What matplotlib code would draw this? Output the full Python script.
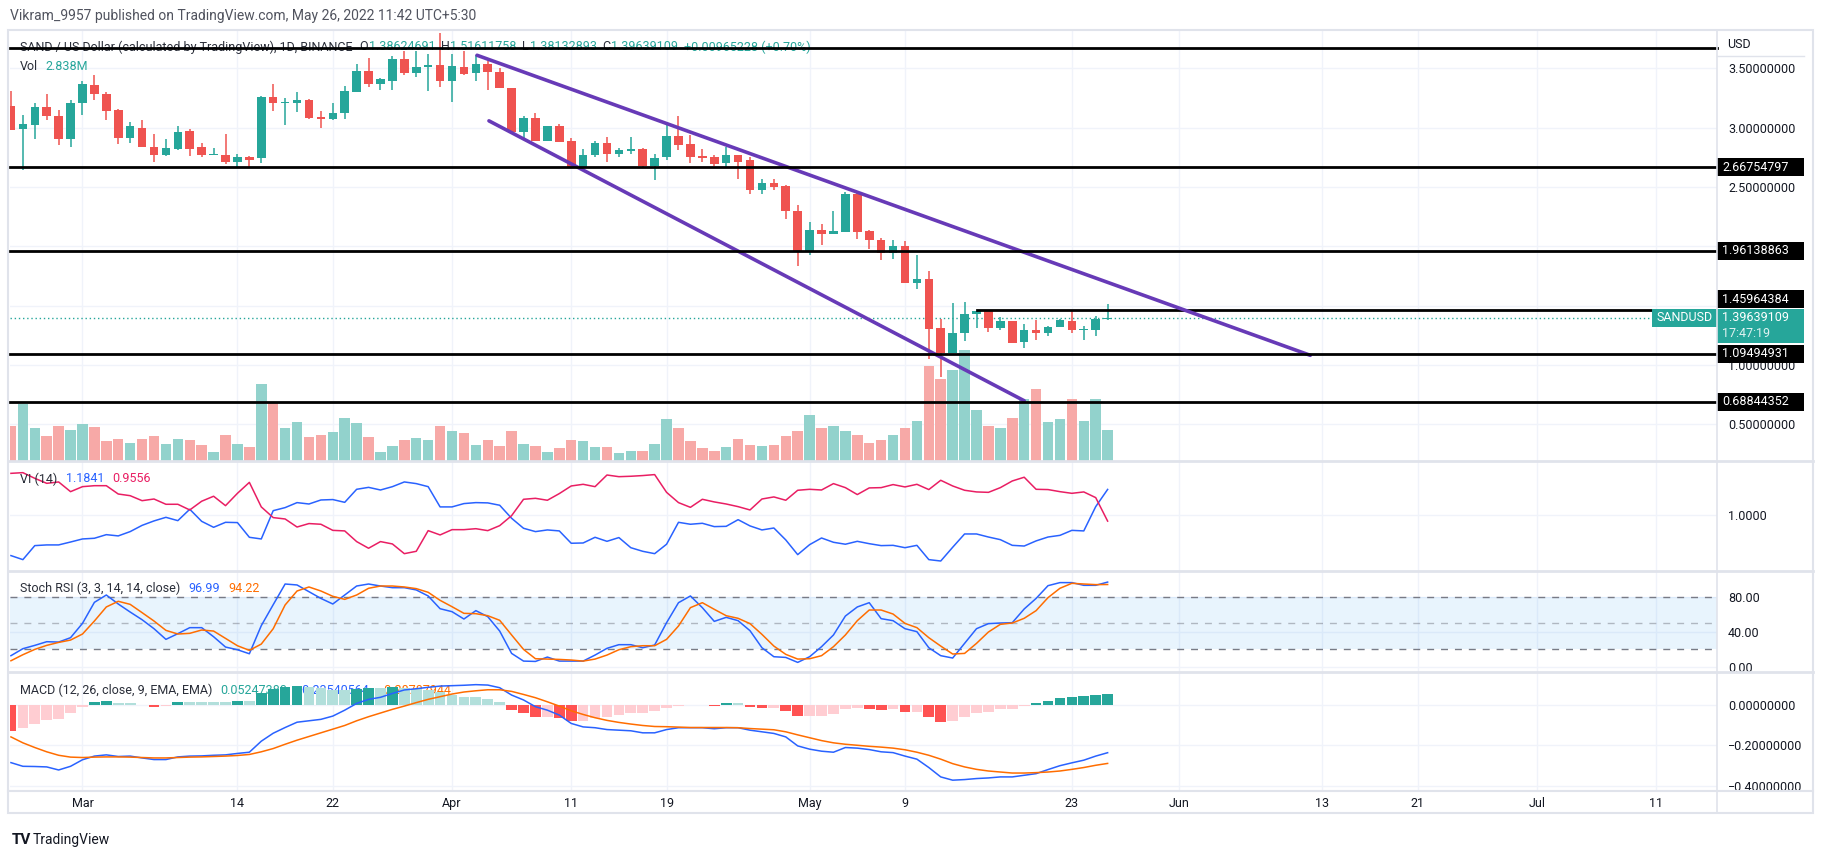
import numpy as np
import matplotlib
matplotlib.use('Agg')
import matplotlib.pyplot as plt
from matplotlib.patches import Rectangle
from matplotlib.lines import Line2D
from matplotlib.transforms import blended_transform_factory

plt.rcParams['font.family'] = ['Roboto', 'DejaVu Sans']

# ---- daily candles, Feb 23 .. May 26 2022 (index 0..92) ----
opens = [3.18, 2.99, 3.02, 3.17, 3.10, 2.90, 3.21, 3.36, 3.28, 3.15,
         2.91, 3.00, 2.84, 2.77, 2.82, 2.97, 2.84, 2.77, 2.77, 2.71,
         2.75, 2.74, 3.26, 3.21, 3.21, 3.23, 3.09, 3.07, 3.12, 3.30,
         3.48, 3.37, 3.39, 3.58, 3.46, 3.51, 3.53, 3.39, 3.51, 3.46,
         3.54, 3.47, 3.33, 2.96, 3.08, 2.89, 3.01, 2.89, 2.67, 2.77,
         2.87, 2.78, 2.80, 2.82, 2.68, 2.75, 2.93, 2.86, 2.76, 2.75,
         2.70, 2.77, 2.73, 2.47, 2.53, 2.51, 2.30, 1.96, 2.14, 2.10,
         2.12, 2.44, 2.13, 2.05, 1.94, 2.00, 1.69, 1.72, 1.31, 1.10,
         1.27, 1.43, 1.45, 1.31, 1.37, 1.19, 1.29, 1.27, 1.32, 1.37,
         1.29, 1.29, 1.38624691]
highs = [3.31, 3.11, 3.21, 3.28, 3.15, 3.23, 3.39, 3.44, 3.30, 3.16,
         3.05, 3.06, 2.95, 2.90, 3.01, 2.99, 2.87, 2.83, 2.95, 2.78,
         2.76, 3.27, 3.37, 3.25, 3.30, 3.24, 3.14, 3.21, 3.35, 3.54,
         3.59, 3.42, 3.60, 3.65, 3.65, 3.62, 3.80, 3.62, 3.65, 3.61,
         3.56, 3.50, 3.33, 3.10, 3.12, 3.01, 3.03, 2.91, 2.82, 2.89,
         2.92, 2.83, 2.92, 2.83, 2.78, 3.03, 3.10, 2.94, 2.82, 2.77,
         2.84, 2.77, 2.75, 2.57, 2.57, 2.52, 2.35, 2.20, 2.19, 2.30,
         2.46, 2.46, 2.14, 2.07, 2.05, 2.04, 1.93, 1.79, 1.39, 1.52,
         1.53, 1.45, 1.45, 1.40, 1.37, 1.34, 1.38, 1.33, 1.39, 1.45,
         1.33, 1.41, 1.51611758]
lows = [2.98, 2.64, 2.90, 3.06, 2.85, 2.84, 3.11, 3.23, 3.06, 2.86,
        2.87, 2.84, 2.71, 2.76, 2.81, 2.76, 2.75, 2.77, 2.69, 2.67,
        2.67, 2.70, 3.14, 3.02, 3.13, 3.07, 3.00, 3.06, 3.07, 3.30,
        3.34, 3.32, 3.32, 3.44, 3.43, 3.31, 3.34, 3.22, 3.44, 3.39,
        3.32, 3.33, 2.95, 2.90, 2.89, 2.89, 2.88, 2.66, 2.67, 2.75,
        2.71, 2.75, 2.78, 2.66, 2.56, 2.73, 2.81, 2.70, 2.71, 2.68,
        2.66, 2.57, 2.44, 2.44, 2.47, 2.23, 1.83, 1.93, 2.01, 2.10,
        2.12, 2.06, 1.98, 1.88, 1.89, 1.69, 1.64, 1.05, 0.90, 1.10,
        1.20, 1.31, 1.28, 1.29, 1.18, 1.14, 1.21, 1.24, 1.32, 1.27,
        1.21, 1.24, 1.38132893]
closes = [2.98, 3.03, 3.17, 3.10, 2.90, 3.21, 3.37, 3.28, 3.14, 2.91,
          3.01, 2.84, 2.77, 2.83, 2.96, 2.82, 2.77, 2.78, 2.71, 2.75,
          2.73, 3.26, 3.21, 3.214, 3.23, 3.08, 3.07, 3.12, 3.31, 3.48,
          3.37, 3.41, 3.58, 3.46, 3.51, 3.53, 3.39, 3.52, 3.45, 3.54,
          3.47, 3.33, 2.96, 3.08, 2.89, 3.01, 2.88, 2.67, 2.77, 2.87,
          2.78, 2.81, 2.82, 2.68, 2.74, 2.93, 2.85, 2.75, 2.745, 2.69,
          2.77, 2.71, 2.47, 2.53, 2.50, 2.30, 1.96, 2.14, 2.10, 2.13,
          2.44, 2.12, 2.05, 1.94, 2.00, 1.69, 1.72, 1.30, 1.10, 1.27,
          1.43, 1.45, 1.31, 1.37, 1.18, 1.29, 1.27, 1.32, 1.38, 1.29,
          1.30, 1.39, 1.39639109]
volumes = [3.21, 5.24, 3.02, 2.28, 3.21, 2.84, 3.39, 3.12, 1.82, 2.01,
           1.64, 2.01, 2.28, 1.54, 2.01, 1.91, 1.45, 0.80, 2.38, 1.54,
           1.26, 7.10, 5.34, 3.02, 3.58, 2.19, 2.38, 2.65, 3.95, 3.49,
           2.19, 0.80, 1.36, 1.91, 2.10, 1.91, 3.21, 2.75, 2.56, 1.45,
           1.91, 1.36, 2.75, 1.54, 1.36, 0.80, 1.17, 1.91, 1.82, 1.26,
           1.26, 0.71, 0.89, 0.89, 1.54, 3.86, 3.02, 1.82, 1.17, 0.89,
           1.26, 2.01, 1.45, 1.36, 1.45, 2.28, 2.75, 4.23, 3.02, 3.21,
           2.75, 2.38, 1.64, 1.91, 2.38, 3.02, 3.67, 8.76, 7.56, 8.39,
           10.24, 4.69, 3.21, 3.02, 3.95, 5.77, 6.63, 3.58, 3.86, 5.71,
           3.67, 5.71, 2.838]

# ---- indicators ----
vi_plus = [0.707, 0.678, 0.779, 0.784, 0.784, 0.805, 0.827, 0.832, 0.858, 0.849,
           0.880, 0.925, 0.957, 0.983, 0.959, 1.041, 0.954, 0.911, 0.947, 0.945,
           0.839, 0.827, 1.031, 1.053, 1.089, 1.079, 1.108, 1.111, 1.091, 1.185,
           1.199, 1.180, 1.204, 1.238, 1.226, 1.204, 1.058, 1.058, 1.082, 1.089,
           1.087, 1.070, 0.976, 0.904, 0.880, 0.892, 0.885, 0.796, 0.798, 0.839,
           0.810, 0.837, 0.764, 0.738, 0.721, 0.789, 0.947, 0.933, 0.940, 0.916,
           0.918, 0.966, 0.921, 0.892, 0.906, 0.820, 0.714, 0.786, 0.834, 0.803,
           0.789, 0.810, 0.793, 0.779, 0.781, 0.764, 0.781, 0.678, 0.668, 0.767,
           0.863, 0.863, 0.841, 0.822, 0.781, 0.776, 0.813, 0.841, 0.853, 0.889,
           0.885, 1.060, 1.1841]
vi_minus = [1.300, 1.305, 1.264, 1.228, 1.238, 1.168, 1.204, 1.211, 1.211, 1.151,
            1.139, 1.103, 1.115, 1.077, 1.077, 1.036, 1.099, 1.135, 1.067, 1.156,
            1.235, 1.058, 0.981, 0.971, 0.913, 0.938, 0.933, 0.889, 0.885, 0.808,
            0.760, 0.808, 0.791, 0.721, 0.738, 0.887, 0.856, 0.894, 0.894, 0.901,
            0.887, 0.923, 0.995, 1.113, 1.120, 1.106, 1.154, 1.209, 1.221, 1.204,
            1.288, 1.276, 1.279, 1.284, 1.291, 1.163, 1.089, 1.055, 1.113, 1.094,
            1.079, 1.060, 1.036, 1.115, 1.130, 1.106, 1.178, 1.185, 1.180, 1.226,
            1.197, 1.147, 1.195, 1.197, 1.219, 1.202, 1.221, 1.183, 1.250, 1.209,
            1.178, 1.166, 1.163, 1.197, 1.245, 1.272, 1.185, 1.183, 1.168, 1.156,
            1.166, 1.125, 0.9556]
stoch_k = [12.7, 20.7, 24.5, 28.7, 28.3, 33.3, 49.7, 73.8, 82.2, 71.9,
           62.7, 53.9, 43.6, 31.4, 37.9, 44.8, 44.8, 34.4, 22.6, 19.5,
           14.9, 47.1, 71.1, 94.8, 93.7, 86.0, 78.3, 71.9, 82.2, 92.5,
           94.8, 92.5, 90.6, 90.6, 88.0, 81.1, 66.5, 63.1, 54.7, 64.3,
           57.4, 40.9, 15.3, 6.5, 6.1, 11.1, 6.5, 6.5, 6.5, 13.4,
           21.1, 25.3, 25.3, 21.8, 24.9, 50.5, 73.4, 81.1, 67.7, 52.0,
           56.6, 52.8, 41.3, 21.8, 11.5, 10.7, 5.0, 11.5, 23.0, 36.4,
           58.1, 68.5, 73.4, 55.1, 52.8, 43.6, 40.2, 21.8, 12.7, 10.0,
           26.8, 43.6, 49.4, 50.1, 50.5, 66.2, 78.3, 92.9, 96.4, 96.4,
           93.3, 93.3, 96.99]
stoch_d = [6.9, 13.8, 19.9, 24.5, 27.9, 30.6, 37.5, 52.4, 68.5, 75.0,
           71.5, 62.0, 52.4, 41.7, 37.5, 38.3, 42.1, 40.9, 32.5, 24.1,
           18.8, 26.0, 43.6, 70.8, 86.8, 91.4, 86.8, 80.7, 77.2, 82.2,
           89.9, 92.5, 92.5, 91.4, 89.5, 85.3, 76.1, 68.8, 61.2, 60.8,
           58.5, 53.2, 36.4, 19.9, 9.2, 8.8, 8.4, 7.7, 6.5, 8.8,
           13.4, 19.5, 23.0, 24.1, 24.1, 31.4, 46.7, 67.7, 73.4, 65.8,
           58.5, 55.5, 49.4, 37.1, 23.7, 14.2, 8.8, 9.2, 12.7, 23.0,
           36.4, 52.8, 65.0, 65.0, 60.4, 49.7, 44.8, 33.3, 23.7, 14.6,
           15.3, 26.8, 39.8, 48.6, 50.1, 55.5, 64.3, 79.2, 89.9, 95.6,
           94.8, 94.1, 94.22]
macd_line = [-0.284, -0.302, -0.303, -0.305, -0.320, -0.302, -0.270, -0.252, -0.246, -0.254,
             -0.252, -0.261, -0.269, -0.269, -0.256, -0.252, -0.251, -0.248, -0.246, -0.239,
             -0.233, -0.179, -0.140, -0.112, -0.086, -0.079, -0.072, -0.056, -0.027, 0.006,
             0.026, 0.036, 0.055, 0.072, 0.078, 0.085, 0.091, 0.093, 0.095, 0.098,
             0.096, 0.083, 0.047, 0.023, -0.010, -0.027, -0.051, -0.092, -0.109, -0.113,
             -0.122, -0.125, -0.128, -0.138, -0.138, -0.122, -0.113, -0.113, -0.113, -0.118,
             -0.113, -0.113, -0.125, -0.133, -0.141, -0.158, -0.202, -0.218, -0.228, -0.233,
             -0.210, -0.213, -0.220, -0.231, -0.235, -0.252, -0.267, -0.308, -0.354, -0.370,
             -0.367, -0.362, -0.359, -0.354, -0.354, -0.346, -0.338, -0.318, -0.299, -0.285,
             -0.272, -0.252, -0.23540564]
macd_signal = [-0.158, -0.187, -0.210, -0.231, -0.248, -0.257, -0.259, -0.257, -0.256, -0.256,
               -0.257, -0.259, -0.261, -0.261, -0.259, -0.257, -0.256, -0.254, -0.252, -0.249,
               -0.244, -0.231, -0.215, -0.194, -0.174, -0.156, -0.138, -0.120, -0.102, -0.079,
               -0.059, -0.041, -0.023, -0.007, 0.010, 0.026, 0.039, 0.052, 0.062, 0.068,
               0.073, 0.073, 0.065, 0.050, 0.034, 0.014, -0.007, -0.030, -0.048, -0.064,
               -0.077, -0.087, -0.095, -0.102, -0.107, -0.108, -0.110, -0.112, -0.112, -0.112,
               -0.112, -0.113, -0.117, -0.120, -0.123, -0.133, -0.148, -0.162, -0.176, -0.187,
               -0.194, -0.199, -0.204, -0.208, -0.213, -0.221, -0.233, -0.248, -0.267, -0.289,
               -0.305, -0.317, -0.325, -0.330, -0.335, -0.335, -0.333, -0.330, -0.325, -0.317,
               -0.308, -0.297, -0.28787944]
macd_hist = [-0.128, -0.113, -0.094, -0.074, -0.069, -0.043, -0.010, 0.014, 0.019, 0.008,
             0.008, -0.004, -0.010, -0.005, 0.013, 0.013, 0.013, 0.013, 0.013, 0.018,
             0.018, 0.059, 0.075, 0.088, 0.090, 0.085, 0.083, 0.072, 0.072, 0.078,
             0.083, 0.080, 0.085, 0.080, 0.075, 0.072, 0.060, 0.047, 0.037, 0.037,
             0.028, 0.013, -0.025, -0.041, -0.061, -0.061, -0.066, -0.080, -0.079, -0.066,
             -0.061, -0.051, -0.041, -0.041, -0.030, -0.015, -0.007, -0.002, -0.002, -0.007,
             0.006, 0.006, -0.012, -0.017, -0.017, -0.031, -0.056, -0.056, -0.056, -0.046,
             -0.022, -0.017, -0.022, -0.027, -0.022, -0.036, -0.036, -0.061, -0.086, -0.080,
             -0.061, -0.041, -0.036, -0.022, -0.022, -0.007, 0.008, 0.018, 0.032, 0.037,
             0.042, 0.048, 0.0524738]

# ---- drawings ----
levels_full = [3.675, 2.66754797, 1.96138863, 1.09494931, 0.68844352]
level_short = 1.45964384
level_short_start = 81
upper_x, upper_y = [39.1, 109.0], [3.61, 1.08]
lower_x, lower_y = [40.1, 85.0], [3.057, 0.697]

tick_pos = [6, 19, 27, 37, 47, 55, 67, 75, 89, 98, 110, 118, 128, 138]
tick_labels = ['Mar', '14', '22', 'Apr', '11', '19', 'May', '9', '23', 'Jun', '13', '21', 'Jul', '11']

TEAL, RED = '#26a69a', '#ef5350'
BLUE, PINK, ORANGE = '#2962ff', '#e91e63', '#ff6d00'
PURPLE = '#673ab7'
TXT = '#2a2e39'
GRID = '#f0f3fa'
BORDER = '#e0e3eb'

W, H = 1824, 860
L, R = 10, 1717
x = np.arange(len(closes))
xlim = (-0.08, 143.12)

fig = plt.figure(figsize=(W / 100, H / 100), dpi=100)
fig.patch.set_facecolor('white')


def fx(px):
    return px / W


def fy(py):
    return 1 - py / H


def panel(y0, y1):
    a = fig.add_axes([fx(L), fy(y1), (R - L) / W, (y1 - y0) / H])
    a.set_xlim(*xlim)
    a.patch.set_alpha(0)
    for s in a.spines.values():
        s.set_visible(False)
    a.yaxis.tick_right()
    a.tick_params(axis='y', length=0, pad=8, labelsize=9, labelcolor='#131722')
    a.tick_params(axis='x', length=0, labelbottom=False)
    a.set_xticks(tick_pos)
    a.grid(axis='both', color=GRID, lw=1)
    a.set_axisbelow(True)
    return a


# ---- main price panel ----
ax_vol = panel(30, 461)
ax_vol.set_ylim(0, 39.9)
ax_vol.set_yticks([])
ax_vol.grid(False)
ax = panel(30, 461)
ax.grid(False)
ax.set_ylim(0.189, 3.823)
price_ticks = [0.5, 1.0, 1.5, 2.0, 2.5, 3.0, 3.5]
ax.set_yticks(price_ticks)
# 2.0 and 1.5 sit under the tags in the reference
ax.set_yticklabels(['' if v in (1.5, 2.0) else '%.8f' % v for v in price_ticks])

gtr = blended_transform_factory(ax_vol.transAxes, ax.transData)
for p in price_ticks:
    ax_vol.plot([0, 1], [p, p], transform=gtr, color=GRID, lw=1, zorder=0)
for t in tick_pos:
    ax_vol.axvline(t, color=GRID, lw=1, zorder=0)

o, h, l, c = map(np.array, (opens, highs, lows, closes))
up = c >= o
cols = np.where(up, TEAL, RED)
vcols = np.where(up, '#92d2cc', '#f7a9a7')
ax_vol.bar(x, volumes, width=0.88, color=vcols, zorder=2)

ax.vlines(x, l, h, color=cols, lw=1.1, zorder=3)
ax.bar(x, np.maximum(np.abs(c - o), 0.006), bottom=np.minimum(o, c),
       width=0.72, color=cols, zorder=4)

for lv in levels_full:
    ax.plot([xlim[0], xlim[1]], [lv, lv], color='black', lw=2, zorder=7, clip_on=False)
ax.plot([level_short_start, xlim[1]], [level_short, level_short], color='black', lw=2, zorder=5)
ax.plot(upper_x, upper_y, color=PURPLE, lw=2.6, zorder=6, solid_capstyle='round')
ax.plot(lower_x, lower_y, color=PURPLE, lw=2.6, zorder=6, solid_capstyle='round')
ax.axhline(closes[-1], color=TEAL, lw=1, ls=(0, (1, 2)), zorder=2)

# right-side price tags
ytr = ax.get_yaxis_transform()
pxu = 118.6  # pixels per price unit on this panel
box_w = 87 / (R - L)
for lv in levels_full[1:] + [level_short]:
    yc = lv if lv != level_short else lv + 10.8 / pxu
    ax.add_patch(Rectangle((1.0, yc - 9 / pxu), box_w, 18 / pxu, transform=ytr,
                           fc='black', ec='none', clip_on=False, zorder=10))
    ax.text(1.0 + 5 / (R - L), yc, '%.8f' % lv, transform=ytr, color='white',
            fontsize=9, va='center', ha='left', zorder=11, clip_on=False)
last = closes[-1]
ax.add_patch(Rectangle((1.0 - 65 / (R - L), last - 9.2 / pxu), 65 / (R - L), 18 / pxu,
                       transform=ytr, fc=TEAL, ec='none', clip_on=False, zorder=10))
ax.text(1.0 - 60 / (R - L), last, 'SANDUSD', transform=ytr, color='white', fontsize=9,
        va='center', ha='left', zorder=11, clip_on=False)
ax.add_patch(Rectangle((1.0, last - 25.2 / pxu), box_w, 34 / pxu, transform=ytr,
                       fc=TEAL, ec='none', clip_on=False, zorder=10))
ax.text(1.0 + 5 / (R - L), last, '%.8f' % last, transform=ytr, color='white', fontsize=9,
        va='center', ha='left', zorder=11, clip_on=False)
ax.text(1.0 + 5 / (R - L), last - 16 / pxu, '17:47:19', transform=ytr, color='#e0f2f1',
        fontsize=9, va='center', ha='left', zorder=11, clip_on=False)

# ---- VI panel ----
ax_vi = panel(461, 571)
ax_vi.set_ylim(0.596, 1.389)
ax_vi.set_yticks([1.0])
ax_vi.set_yticklabels(['1.0000'])
ax_vi.plot(x, vi_plus, color=BLUE, lw=1.1)
ax_vi.plot(x, vi_minus, color=PINK, lw=1.1)

# ---- Stoch RSI panel ----
ax_st = panel(571, 672)
ax_st.set_ylim(-6.0, 109.7)
ax_st.set_yticks([0, 40, 80])
ax_st.set_yticklabels(['0.00', '40.00', '80.00'])
ax_st.axhspan(20, 80, color='#2196f3', alpha=0.1, lw=0, zorder=1)
for lv, a in ((80, 1.0), (50, 0.5), (20, 1.0)):
    ax_st.axhline(lv, color='#787b86', lw=1, ls=(0, (5, 5)), alpha=a, zorder=2)
ax_st.plot(x, stoch_k, color=BLUE, lw=1.1, zorder=3)
ax_st.plot(x, stoch_d, color=ORANGE, lw=1.1, zorder=3)

# ---- MACD panel ----
ax_m = panel(672, 791)
ax_m.set_ylim(-0.423, 0.160)
ax_m.set_yticks([0.0, -0.2, -0.4])
ax_m.set_yticklabels(['0.00000000', '\u22120.20000000', '\u22120.40000000'])
hist = np.array(macd_hist)
prev = np.concatenate([[hist[0] + 0.01], hist[:-1]])
hcols = np.where(hist >= 0, np.where(hist > prev, '#26a69a', '#b2dfdb'),
                 np.where(hist < prev, '#ff5252', '#ffcdd2'))
ax_m.bar(x, hist, width=0.9, color=hcols, zorder=4)
ax_m.plot(x, macd_line, color=BLUE, lw=1.1, zorder=5)
ax_m.plot(x, macd_signal, color=ORANGE, lw=1.1, zorder=5)
ax_m.tick_params(axis='x', labelbottom=True, labelsize=9, labelcolor='#131722', pad=4)
ax_m.set_xticklabels(tick_labels)

# ---- frame lines ----
def fline(x0, y0, x1, y1, color=BORDER, lw=1.5):
    fig.add_artist(Line2D([fx(x0), fx(x1)], [fy(y0), fy(y1)], color=color, lw=lw,
                          transform=fig.transFigure))


fig.add_artist(Rectangle((fx(8), fy(813)), fx(1813) - fx(8), fy(30) - fy(813),
                         transform=fig.transFigure, fc='none', ec=BORDER, lw=1.5))
for yy in (461, 571, 672):
    fline(8, yy, 1813, yy, lw=2)
fline(8, 791, 1813, 791, lw=1.5)
fline(R, 30, R, 813, lw=1.2)
fline(R, 56, 1804, 56, lw=1)
fig.text(fx(1727), fy(44), 'USD', fontsize=9, color='#131722', va='center')

# ---- texts ----
fig.text(fx(10), fy(16), 'Vikram_9957 published on TradingView.com, May 26, 2022 11:42 UTC+5:30',
         fontsize=10, color='#50535e', va='center')


def chain(a, x0, y0, parts, size=9):
    # first piece placed in figure pixels, the rest follow it on the same panel
    s, col = parts[0][:2]
    t = a.text(fx(x0), fy(y0), s, transform=fig.transFigure, color=col, fontsize=size,
               va='center', ha='left', zorder=3, clip_on=False)
    for s, col, gap in parts[1:]:
        t = a.annotate(s, xy=(1, 0.5), xycoords=t, xytext=(gap, 0), textcoords='offset points',
                       color=col, fontsize=size, va='center', ha='left',
                       annotation_clip=False, zorder=3)


chain(ax, 20, 47, [('SAND / US Dollar (calculated by TradingView), 1D, BINANCE', TXT),
                   ('O', TXT, 5), ('%.8f' % opens[-1], TEAL, 0.5),
                   ('H', TXT, 4), ('%.8f' % highs[-1], TEAL, 0.5),
                   ('L', TXT, 4), ('%.8f' % lows[-1], TEAL, 0.5),
                   ('C', TXT, 4), ('%.8f' % closes[-1], TEAL, 0.5),
                   ('+0.00965228 (+0.70%)', TEAL, 4)])
chain(ax, 20, 67, [('Vol', TXT), ('%.3fM' % volumes[-1], TEAL, 5)])
chain(ax_vi, 20, 479, [('VI (14)', TXT), ('%.4f' % vi_plus[-1], BLUE, 6),
                       ('%.4f' % vi_minus[-1], PINK, 6)])
chain(ax_st, 20, 588, [('Stoch RSI (3, 3, 14, 14, close)', TXT), ('%.2f' % stoch_k[-1], BLUE, 6),
                       ('%.2f' % stoch_d[-1], ORANGE, 6)])
chain(ax_m, 20, 690, [('MACD (12, 26, close, 9, EMA, EMA)', TXT), ('%.8f' % macd_hist[-1], TEAL, 6),
                      ('\u2212%.8f' % -macd_line[-1], BLUE, 6),
                      ('\u2212%.8f' % -macd_signal[-1], ORANGE, 6)])

fig.text(fx(12), fy(840), 'TV', fontsize=11, fontweight='bold', color='#131722', va='center')
fig.text(fx(33), fy(840), 'TradingView', fontsize=10, color='#131722', va='center')

fig.savefig('out.png', dpi=100)
